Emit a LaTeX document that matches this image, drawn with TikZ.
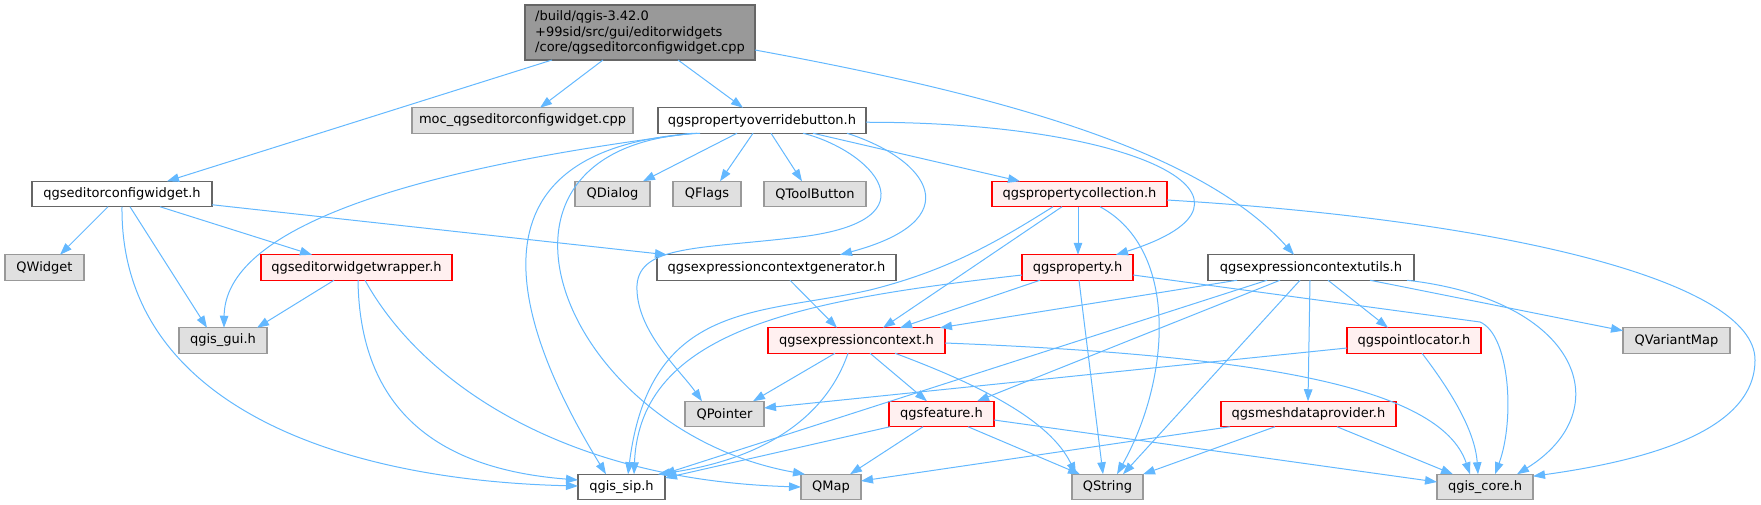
\documentclass[tikz,border=0pt]{standalone}
\usepackage{fontspec}
\setmainfont{DejaVu Sans}
\usetikzlibrary{arrows.meta}
\definecolor{edgeblue}{HTML}{63B8FF}
\definecolor{extfill}{HTML}{E0E0E0}
\definecolor{extline}{HTML}{999999}
\definecolor{incline}{HTML}{666666}
\definecolor{redfill}{HTML}{FFF0F0}
\begin{document}
\begin{tikzpicture}[x=1pt,y=-1pt,inner sep=1pt,outer sep=0pt,font=\fontsize{13}{15.5}\selectfont,
filebox/.style={draw,rectangle,line width=1.3pt,minimum height=25.5pt},
incfile/.style={filebox,draw=incline,fill=white},
extfile/.style={filebox,draw=extline,fill=extfill},
redfile/.style={filebox,draw=red,fill=redfill},
dep/.style={-{Triangle[length=12pt,width=8.5pt]},draw=edgeblue,line width=1pt}]
\useasboundingbox (0,0) rectangle (1761,505);
\draw (640,32.5) node[filebox,draw=incline,fill=extline,minimum width=230pt,minimum height=55pt,align=left] (main) {/build/qgis-3.42.0\\+99sid/src/gui/editorwidgets\\/core/qgseditorconfigwidget.cpp};
\draw (522.5,120.5) node[extfile,minimum width=221pt] (moc) {moc\_qgseditorconfigwidget.cpp};
\draw (762,120.5) node[incfile,minimum width=208pt] (ovr) {qgspropertyoverridebutton.h};
\draw (122,194) node[incfile,minimum width=180pt] (cfgw) {qgseditorconfigwidget.h};
\draw (612.5,194) node[extfile,minimum width=75pt] (qdialog) {QDialog};
\draw (707,194) node[extfile,minimum width=68pt] (qflags) {QFlags};
\draw (815,194) node[extfile,minimum width=102pt] (qtool) {QToolButton};
\draw (1079.5,194) node[redfile,minimum width=175pt] (propcoll) {qgspropertycollection.h};
\draw (44.5,267.5) node[extfile,minimum width=79pt] (qwidget) {QWidget};
\draw (356.5,267.5) node[redfile,minimum width=191pt] (wrapper) {qgseditorwidgetwrapper.h};
\draw (776.5,267.5) node[incfile,minimum width=239pt] (ctxgen) {qgsexpressioncontextgenerator.h};
\draw (1077.5,267.5) node[redfile,minimum width=111pt] (prop) {qgsproperty.h};
\draw (1311,267.5) node[incfile,minimum width=206pt] (utils) {qgsexpressioncontextutils.h};
\draw (223,340.5) node[extfile,minimum width=88pt] (gui) {qgis\_gui.h};
\draw (856.5,340.5) node[redfile,minimum width=177pt] (ctx) {qgsexpressioncontext.h};
\draw (1414,340.5) node[redfile,minimum width=134pt] (ploc) {qgspointlocator.h};
\draw (1676.5,340.5) node[extfile,minimum width=107pt] (qvmap) {QVariantMap};
\draw (724.5,414) node[extfile,minimum width=79pt] (qpointer) {QPointer};
\draw (941.5,414) node[redfile,minimum width=105pt] (feature) {qgsfeature.h};
\draw (1308.5,414) node[redfile,minimum width=175pt] (mesh) {qgsmeshdataprovider.h};
\draw (621.5,487) node[incfile,minimum width=87pt] (sip) {qgis\_sip.h};
\draw (831,487) node[extfile,minimum width=60pt] (qmap) {QMap};
\draw (1107.5,487) node[extfile,minimum width=71pt] (qstring) {QString};
\draw (1485,487) node[extfile,minimum width=96pt] (core) {qgis\_core.h};
\draw[dep] ([xshift=27pt]main.south west) -- ([xshift=135pt]cfgw.north west);
\draw[dep] ([xshift=78pt]main.south west) -- ([xshift=128pt]moc.north west);
\draw[dep] ([xshift=153pt]main.south west) -- ([xshift=85pt]ovr.north west);
\draw[dep] ([yshift=10pt]main.south east) .. controls (1000,95) and (1200,150) .. ([xshift=86pt]utils.north west);
\draw[dep] ([xshift=76pt]cfgw.south west) -- ([xshift=55pt]qwidget.north west);
\draw[dep] ([xshift=98pt]cfgw.south west) -- ([xshift=28pt]gui.north west);
\draw[dep] ([xshift=90pt]cfgw.south west) .. controls (120,400) and (330,480) .. ([yshift=1pt]sip.west);
\draw[dep] ([xshift=128pt]cfgw.south west) -- ([xshift=51pt]wrapper.north west);
\draw[dep] ([yshift=2pt]cfgw.south east) -- ([xshift=10pt]ctxgen.north west);
\draw[dep] ([xshift=73pt]wrapper.south west) -- ([xshift=78pt]gui.north west);
\draw[dep] ([xshift=97pt]wrapper.south west) .. controls (360,420) and (450,470) .. ([yshift=7pt]sip.west);
\draw[dep] ([xshift=104pt]wrapper.south west) .. controls (420,380) and (560,480) .. (qmap.west);
\draw[dep] ([xshift=79pt]ovr.south west) -- ([xshift=68pt]qdialog.north west);
\draw[dep] ([xshift=95pt]ovr.south west) -- ([xshift=47pt]qflags.north west);
\draw[dep] ([xshift=113pt]ovr.south west) -- ([xshift=38pt]qtool.north west);
\draw[dep] ([xshift=35pt]ovr.south west) .. controls (400,170) and (225,230) .. ([xshift=45pt]gui.north west);
\draw[dep] ([xshift=39pt]ovr.south west) .. controls (440,150) and (530,350) .. ([xshift=28pt]sip.north west);
\draw[dep] ([xshift=42pt]ovr.south west) .. controls (450,145) and (560,430) .. ([xshift=4pt]qmap.north west);
\draw[dep] ([xshift=145pt]ovr.south west) .. controls (870,150) and (940,220) .. (800,237) .. controls (700,249) and (640,245) .. (637,285) .. controls (635,330) and (680,370) .. ([xshift=17pt]qpointer.north west);
\draw[dep] ([xshift=189pt]ovr.south west) .. controls (930,160) and (970,220) .. ([xshift=183pt]ctxgen.north west);
\draw[dep] ([xshift=155pt]ovr.south west) -- ([xshift=28pt]propcoll.north west);
\draw[dep] ([yshift=11pt]ovr.south east) .. controls (1140,122) and (1290,200) .. ([xshift=94pt]prop.north west);
\draw[dep] ([xshift=133pt]ctxgen.south west) -- ([xshift=69pt]ctx.north west);
\draw[dep] ([xshift=86pt]propcoll.south west) -- ([xshift=56pt]prop.north west);
\draw[dep] ([xshift=70pt]propcoll.south west) -- ([xshift=115pt]ctx.north west);
\draw[dep] ([xshift=61pt]propcoll.south west) .. controls (1000,240) and (950,270) .. (870,290) .. controls (760,315) and (650,300) .. ([xshift=50pt]sip.north west);
\draw[dep] ([xshift=108pt]propcoll.south west) .. controls (1180,250) and (1170,380) .. ([xshift=45pt]qstring.north west);
\draw[dep] ([yshift=-6pt]propcoll.east) .. controls (1500,220) and (1755,280) .. (1755,360) .. controls (1755,430) and (1650,460) .. ([yshift=-2pt]core.north east);
\draw[dep] ([xshift=18pt]prop.south west) -- ([xshift=132pt]ctx.north west);
\draw[dep] ([yshift=-7.5pt]prop.west) .. controls (800,300) and (640,330) .. ([xshift=56pt]sip.north west);
\draw[dep] ([xshift=57pt]prop.south west) -- ([xshift=31pt]qstring.north west);
\draw[dep] ([yshift=-7.5pt]prop.east) -- (1480,322) .. controls (1510,335) and (1515,420) .. ([xshift=58pt]core.north west);
\draw[dep] ([xshift=29pt]utils.south west) -- ([xshift=172pt]ctx.north west);
\draw[dep] ([xshift=59pt]utils.south west) -- ([xshift=-2pt]sip.north east);
\draw[dep] ([xshift=72pt]utils.south west) -- ([xshift=88pt]feature.north west);
\draw[dep] ([xshift=92pt]utils.south west) -- ([xshift=51pt]qstring.north west);
\draw[dep] ([xshift=102pt]utils.south west) -- ([xshift=87pt]mesh.north west);
\draw[dep] ([xshift=120pt]utils.south west) -- ([xshift=41pt]ploc.north west);
\draw[dep] ([xshift=162pt]utils.south west) -- ([yshift=-3pt]qvmap.north west);
\draw[dep] ([xshift=199pt]utils.south west) .. controls (1580,300) and (1620,410) .. ([xshift=80pt]core.north west);
\draw[dep] ([xshift=67pt]ctx.south west) -- ([xshift=68pt]qpointer.north west);
\draw[dep] ([xshift=80pt]ctx.south west) .. controls (825,420) and (760,460) .. ([xshift=-7pt]sip.north east);
\draw[dep] ([xshift=102pt]ctx.south west) -- ([xshift=38pt]feature.north west);
\draw[dep] ([xshift=127pt]ctx.south west) .. controls (980,385) and (1050,420) .. ([xshift=4pt]qstring.north west);
\draw[dep] ([yshift=-2.5pt]ctx.east) .. controls (1250,355) and (1440,385) .. ([xshift=33pt]core.north west);
\draw[dep] ([yshift=-7.5pt]ploc.west) -- ([yshift=6pt]qpointer.east);
\draw[dep] ([xshift=75pt]ploc.south west) .. controls (1450,390) and (1475,430) .. ([xshift=41pt]core.north west);
\draw[dep] ([xshift=9pt]mesh.south west) -- ([yshift=6pt]qmap.east);
\draw[dep] ([xshift=54pt]mesh.south west) -- (qstring.north east);
\draw[dep] ([xshift=116pt]mesh.south west) -- ([xshift=16pt]core.north west);
\draw[dep] ([xshift=1pt]feature.south west) -- ([yshift=9pt]sip.east);
\draw[dep] ([xshift=34pt]feature.south west) -- ([xshift=49pt]qmap.north west);
\draw[dep] ([xshift=79pt]feature.south west) -- ([xshift=8pt]qstring.north west);
\draw[dep] ([yshift=-6pt]feature.east) -- ([yshift=5pt]core.west);
\end{tikzpicture}
\end{document}
